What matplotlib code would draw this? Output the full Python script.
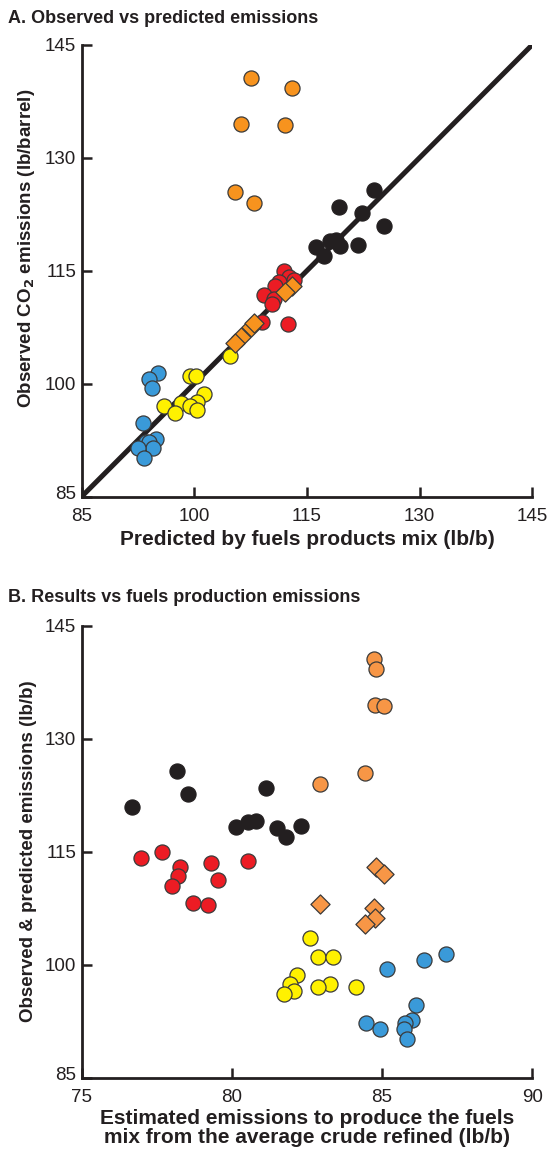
#!/usr/bin/env python3
"""
Refinery CO2 emissions: observed vs predicted, and vs fuels production emissions.
Two stacked scatter panels, saved as out.png.
"""

import matplotlib
matplotlib.use("Agg")
import matplotlib.pyplot as plt
import matplotlib.transforms as mtransforms

plt.rcParams["font.family"] = ["Liberation Sans", "DejaVu Sans"]

# Observed emissions (lb/barrel), one entry per refinery, per group
obs_black = [125.7, 123.4, 122.6, 120.9, 119.1, 118.9, 118.4, 118.3, 118.2, 117.0]
obs_red = [115.0, 114.1, 113.8, 113.5, 113.0, 111.8, 111.2, 110.5, 108.2, 107.9]
obs_orange = [140.6, 139.2, 134.5, 134.4, 125.4, 124.0]
obs_yellow = [103.6, 101.0, 101.0, 98.6, 97.5, 97.4, 97.0, 97.0, 96.5, 96.1]
obs_blue = [101.4, 100.6, 99.4, 94.7, 92.6, 92.2, 92.2, 91.4, 91.4, 90.1]

# Predicted by fuels products mix (lb/b)
pred_black = [123.9, 119.3, 122.3, 125.3, 118.9, 118.1, 121.8, 119.4, 116.2, 117.2]
pred_red = [111.9, 112.6, 113.3, 111.3, 110.7, 109.3, 110.6, 110.3, 109.0, 112.5]
pred_orange = [107.5, 113.0, 106.2, 112.1, 105.4, 108.0]
pred_yellow = [104.8, 99.4, 100.2, 101.3, 100.3, 98.2, 99.4, 95.9, 100.3, 97.4]
pred_blue = [95.1, 94.0, 94.4, 93.2, 94.9, 93.6, 94.0, 94.5, 92.5, 93.3]

# Estimated emissions to produce the fuels mix from the average crude (lb/b)
prod_black = [78.17, 81.14, 78.55, 76.67, 80.8, 80.55, 82.3, 80.14, 81.5, 81.8]
prod_red = [77.67, 76.98, 80.55, 79.31, 78.28, 78.2, 79.53, 78.01, 78.7, 79.2]
prod_orange = [84.74, 84.81, 84.75, 85.05, 84.42, 82.94]
prod_yellow = [82.61, 82.87, 83.35, 82.17, 81.92, 83.25, 82.85, 84.13, 82.05, 81.74]
prod_blue = [87.14, 86.39, 85.17, 86.14, 86.01, 84.47, 85.75, 84.92, 85.72, 85.83]

a_ticks = [85, 100, 115, 130, 145]
b_xticks = [75, 80, 85, 90]
b_yticks = [85, 100, 115, 130, 145]

INK = "#231F20"
EDGE = "#3A3A3A"
BLACK = "#231F20"
RED = "#EC1C24"
ORANGE = "#F7931E"
ORANGE_B = "#F79646"
YELLOW = "#FFF100"
BLUE = "#3A9AD9"

CIRCLE = 118
DIAMOND = 95


def style_axes(fig, ax, xticks, yticks):
    """Open axes with inward ticks, Arial-like labels."""
    for side in ("top", "right"):
        ax.spines[side].set_visible(False)
    for side in ("left", "bottom"):
        ax.spines[side].set_linewidth(2.0)
        ax.spines[side].set_color(INK)
    ax.set_xlim(xticks[0], xticks[-1])
    ax.set_ylim(yticks[0], yticks[-1])
    ax.set_xticks(xticks)
    ax.set_yticks(yticks)
    ax.tick_params(direction="in", length=7, width=1.8, color=INK,
                   labelsize=13.5, labelcolor=INK)
    ax.tick_params(axis="x", pad=8)
    ax.tick_params(axis="y", pad=4)
    # lift the bottom y label a little off the corner
    low = ax.get_yticklabels()[0]
    low.set_transform(low.get_transform()
                      + mtransforms.ScaledTranslation(0, 3 / 72, fig.dpi_scale_trans))


def draw_group(ax, x, y, color, marker="o", size=CIRCLE, edge=EDGE):
    ax.scatter(x, y, s=size, marker=marker, c=color, edgecolors=edge,
               linewidths=0.9, zorder=3, clip_on=False)


fig = plt.figure(figsize=(5.53, 11.52), dpi=100)

# Panel A
ax_a = fig.add_axes([0.1478, 0.5690, 0.8148, 0.3922])
style_axes(fig, ax_a, a_ticks, a_ticks)
ax_a.plot([a_ticks[0], a_ticks[-1]], [a_ticks[0], a_ticks[-1]],
          color=INK, lw=3.6, solid_capstyle="round", zorder=2)
draw_group(ax_a, pred_orange, obs_orange, ORANGE)
draw_group(ax_a, pred_black, obs_black, BLACK, edge=BLACK)
draw_group(ax_a, pred_blue, obs_blue, BLUE)
draw_group(ax_a, pred_yellow, obs_yellow, YELLOW)
draw_group(ax_a, pred_red, obs_red, RED)
draw_group(ax_a, pred_orange, pred_orange, ORANGE, marker="D", size=DIAMOND)
ax_a.set_xlabel("Predicted by fuels products mix (lb/b)", fontsize=15,
                fontweight="bold", color=INK, labelpad=4)
ax_a.set_ylabel("Observed CO$_\\mathbf{2}$ emissions (lb/barrel)", fontsize=13.5,
                fontweight="bold", color=INK)
ax_a.yaxis.set_label_coords(-0.10, 0.55)

# Panel B
ax_b = fig.add_axes([0.1478, 0.0645, 0.8148, 0.3924])
style_axes(fig, ax_b, b_xticks, b_yticks)
draw_group(ax_b, prod_black, obs_black, BLACK, edge=BLACK)
draw_group(ax_b, prod_red, obs_red, RED)
draw_group(ax_b, prod_orange, obs_orange, ORANGE_B)
draw_group(ax_b, prod_orange, pred_orange, ORANGE_B, marker="D", size=DIAMOND)
draw_group(ax_b, prod_yellow, obs_yellow, YELLOW)
draw_group(ax_b, prod_blue, obs_blue, BLUE)
ax_b.set_xlabel("Estimated emissions to produce the fuels\n"
                "mix from the average crude refined (lb/b)", fontsize=15,
                fontweight="bold", color=INK, labelpad=2, linespacing=1.05)
ax_b.set_ylabel("Observed & predicted emissions (lb/b)", fontsize=13.5,
                fontweight="bold", color=INK)
ax_b.yaxis.set_label_coords(-0.10, 0.5)

fig.text(0.014, 0.984, "A. Observed vs predicted emissions", fontsize=13,
         fontweight="bold", color=INK, va="center", ha="left")
fig.text(0.014, 0.481, "B. Results vs fuels production emissions", fontsize=13,
         fontweight="bold", color=INK, va="center", ha="left")

fig.savefig("out.png", dpi=100)
